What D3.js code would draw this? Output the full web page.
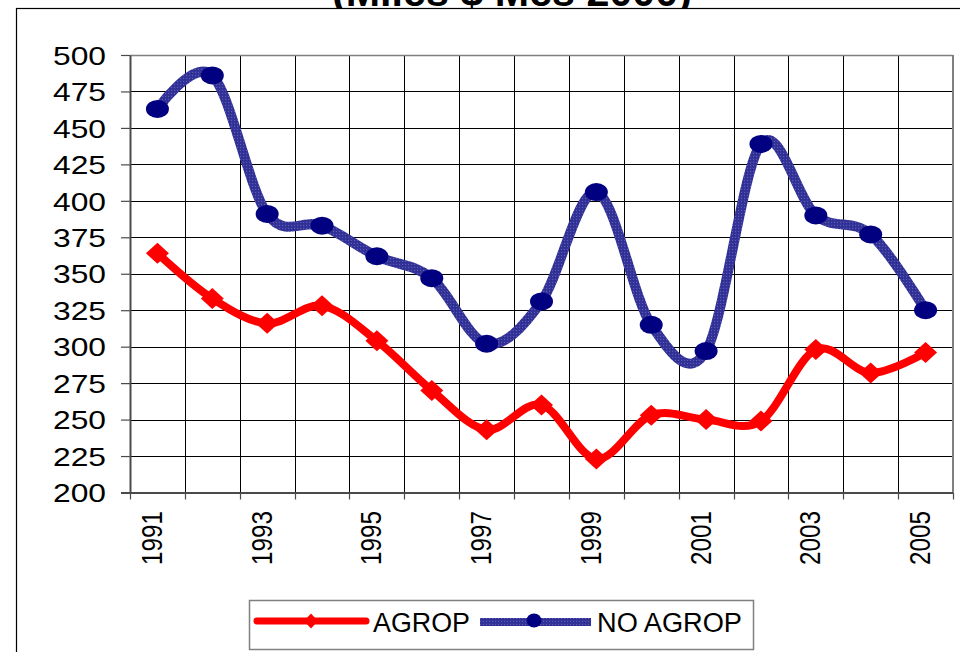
<!DOCTYPE html>
<html>
<head>
<meta charset="utf-8">
<script src="https://cdn.jsdelivr.net/npm/d3@7"></script>
<style>
  html, body { margin: 0; padding: 0; background: #fff; }
  svg { display: block; font-family: "Liberation Sans", Arial, sans-serif; }
</style>
</head>
<body>
<svg id="chart" width="960" height="652"></svg>
<script>
// ---- data ----
const years = ["1991","1992","1993","1994","1995","1996","1997","1998","1999","2000","2001","2002","2003","2004","2005"];
const agrop = [364, 333, 316, 328, 304, 270, 243, 260, 223, 253, 250, 249, 298, 282, 296];
const noAgrop = [463, 486, 391, 383, 362, 347, 302, 331, 406, 315, 297, 439, 390, 377, 325];
const yTicks = [200, 225, 250, 275, 300, 325, 350, 375, 400, 425, 450, 475, 500];
const xTickLabels = ["1991", "1993", "1995", "1997", "1999", "2001", "2003", "2005"];
const seriesNames = ["AGROP", "NO AGROP"];
const titleText = "(Miles $ Mes 2000)";

// ---- layout ----
const W = 960, H = 652;
const plot = { left: 130, right: 953, top: 55, bottom: 492.5 };

const svg = d3.select("#chart");

// patterned blue stroke
const defs = svg.append("defs");
const pat = defs.append("pattern")
  .attr("id", "bluePat").attr("patternUnits", "userSpaceOnUse")
  .attr("width", 3).attr("height", 3);
pat.append("rect").attr("width", 3).attr("height", 3).attr("fill", "#333399");
pat.append("rect").attr("x", 0).attr("y", 0).attr("width", 1).attr("height", 1).attr("fill", "#5c5cb3");
pat.append("rect").attr("x", 2).attr("y", 1).attr("width", 1).attr("height", 1).attr("fill", "#2a2a88");

// title (mostly above the page, only its lower part shows)
svg.append("text")
  .attr("x", 512).attr("y", 6)
  .attr("text-anchor", "middle")
  .attr("font-weight", "bold").attr("font-size", 41)
  .attr("textLength", 360).attr("lengthAdjust", "spacingAndGlyphs")
  .text(titleText);

// chart area border (drawn over the title's lower edge)
svg.append("rect")
  .attr("x", 16.5).attr("y", 8.5).attr("width", W).attr("height", H)
  .attr("fill", "#fff").attr("stroke", "#000").attr("stroke-width", 1.2);

// scales
const x = d3.scaleBand().domain(years).range([plot.left, plot.right]).padding(0);
const y = d3.scaleLinear().domain([200, 500]).range([plot.bottom, plot.top]);
const cx = d => x(d) + x.bandwidth() / 2;

// plot background
svg.append("rect")
  .attr("x", plot.left).attr("y", plot.top)
  .attr("width", plot.right - plot.left).attr("height", plot.bottom - plot.top)
  .attr("fill", "#fff");

// horizontal gridlines
const gGrid = svg.append("g");
gGrid.selectAll("line.h").data(yTicks.slice(1, -1)).join("line")
  .attr("x1", plot.left).attr("x2", plot.right)
  .attr("y1", d => Math.round(y(d)) + 0.5).attr("y2", d => Math.round(y(d)) + 0.5)
  .attr("stroke", "#000").attr("stroke-width", 1);
// vertical gridlines at category boundaries
const bounds = years.slice(1).map(d => x(d));
gGrid.selectAll("line.v").data(bounds).join("line")
  .attr("x1", d => Math.round(d) + 0.5).attr("x2", d => Math.round(d) + 0.5)
  .attr("y1", plot.top).attr("y2", plot.bottom)
  .attr("stroke", "#000").attr("stroke-width", 1);

// plot border top/right (gray)
svg.append("line").attr("x1", plot.left).attr("x2", plot.right).attr("y1", plot.top + 0.5).attr("y2", plot.top + 0.5)
  .attr("stroke", "#808080").attr("stroke-width", 1.5);
svg.append("line").attr("x1", plot.right).attr("x2", plot.right).attr("y1", plot.top).attr("y2", plot.bottom)
  .attr("stroke", "#808080").attr("stroke-width", 2);

// y axis
const yAxis = d3.axisLeft(y).tickValues(yTicks).tickSize(9).tickPadding(15).tickSizeOuter(0);
const gy = svg.append("g").attr("transform", `translate(${plot.left},0)`).call(yAxis);
gy.select(".domain").attr("stroke", "#4a4a4a").attr("stroke-width", 2);
gy.selectAll(".tick line").attr("stroke", "#4a4a4a").attr("stroke-width", 1.2);
gy.selectAll(".tick text")
  .attr("font-size", 25.5).attr("fill", "#000")
  .attr("font-family", "'Liberation Sans', Arial, sans-serif")
  .attr("textLength", 53).attr("lengthAdjust", "spacingAndGlyphs")
  .attr("dy", "0.36em");

// x axis line and tick marks at boundaries
svg.append("line").attr("x1", plot.left - 9).attr("x2", plot.right)
  .attr("y1", plot.bottom + 0.5).attr("y2", plot.bottom + 0.5)
  .attr("stroke", "#4a4a4a").attr("stroke-width", 2);
const allBounds = years.map(d => x(d)).concat([plot.right]);
svg.append("g").selectAll("line").data(allBounds).join("line")
  .attr("x1", d => Math.round(d) + 0.5).attr("x2", d => Math.round(d) + 0.5)
  .attr("y1", plot.bottom).attr("y2", plot.bottom + 7)
  .attr("stroke", "#4a4a4a").attr("stroke-width", 1.2);

// x labels (rotated)
svg.append("g").selectAll("text").data(xTickLabels).join("text")
  .attr("transform", d => `translate(${cx(d) + 4.5},565) rotate(-90)`)
  .attr("text-anchor", "start")
  .attr("font-size", 29)
  .attr("textLength", 54).attr("lengthAdjust", "spacingAndGlyphs")
  .text(d => d);

// lines
const line = d3.line().curve(d3.curveCatmullRom.alpha(0));
const ptsA = years.map((d, i) => [cx(d), y(agrop[i])]);
const ptsB = years.map((d, i) => [cx(d), y(noAgrop[i])]);

svg.append("path").attr("d", line(ptsA))
  .attr("fill", "none").attr("stroke", "#ff0000").attr("stroke-width", 8)
  .attr("stroke-linejoin", "round").attr("stroke-linecap", "round");
svg.append("path").attr("d", line(ptsB))
  .attr("fill", "none").attr("stroke", "url(#bluePat)").attr("stroke-width", 10)
  .attr("stroke-linejoin", "round");

const diamond = (px, py, hw, hh) => `M${px},${py - hh}L${px + hw},${py}L${px},${py + hh}L${px - hw},${py}Z`;

svg.append("g").selectAll("path").data(ptsA).join("path")
  .attr("d", p => diamond(p[0], p[1], 11.5, 10.5))
  .attr("fill", "#ff0000");
svg.append("g").selectAll("ellipse").data(ptsB).join("ellipse")
  .attr("cx", p => p[0]).attr("cy", p => p[1])
  .attr("rx", 11.5).attr("ry", 9)
  .attr("fill", "#000080");

// legend
const lg = svg.append("g");
lg.append("rect").attr("x", 249.5).attr("y", 600.5).attr("width", 504).attr("height", 49)
  .attr("fill", "#fff").attr("stroke", "#808080").attr("stroke-width", 1.5);
lg.append("line").attr("x1", 257).attr("x2", 366).attr("y1", 621).attr("y2", 621)
  .attr("stroke", "#ff0000").attr("stroke-width", 7).attr("stroke-linecap", "round");
lg.append("path").attr("d", diamond(311, 621, 7, 7.5)).attr("fill", "#ff0000");
lg.append("text").attr("x", 373).attr("y", 631.5).attr("font-size", 27)
  .attr("textLength", 97).attr("lengthAdjust", "spacingAndGlyphs").text(seriesNames[0]);
lg.append("line").attr("x1", 480).attr("x2", 591).attr("y1", 622).attr("y2", 622)
  .attr("stroke", "url(#bluePat)").attr("stroke-width", 8);
lg.append("ellipse").attr("cx", 534).attr("cy", 620.5).attr("rx", 7.5).attr("ry", 7).attr("fill", "#000080");
lg.append("text").attr("x", 597).attr("y", 631.5).attr("font-size", 27)
  .attr("textLength", 145).attr("lengthAdjust", "spacingAndGlyphs").text(seriesNames[1]);
</script>
</body>
</html>
